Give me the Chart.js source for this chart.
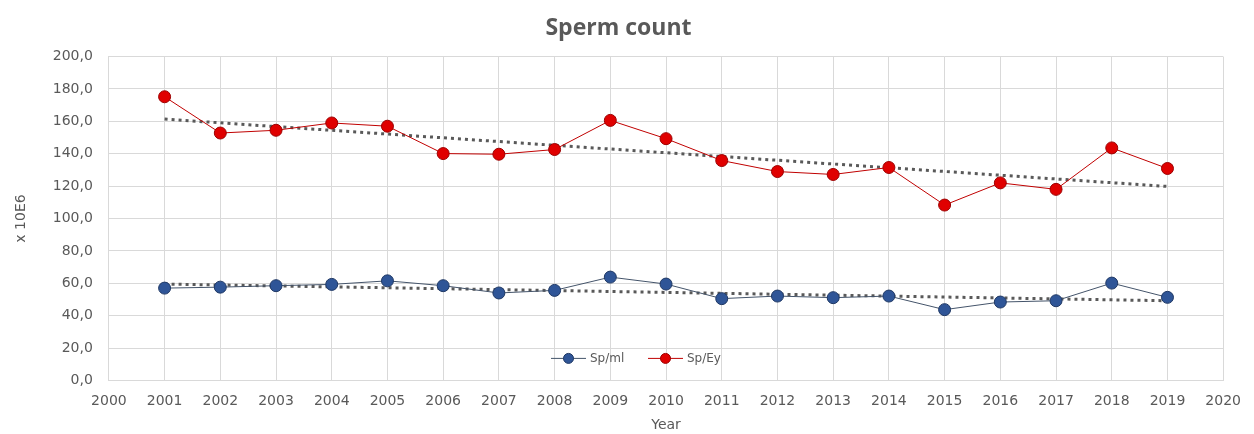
<!DOCTYPE html>
<html>
<head>
<meta charset="utf-8">
<script src="https://cdn.jsdelivr.net/npm/chart.js@4"></script>
<style>
  html, body { margin: 0; padding: 0; background: #fff; }
  #wrap { width: 1254px; height: 434px; }
</style>
</head>
<body>
<div id="wrap"><canvas id="spermChart"></canvas></div>
<script>
const years = [2001, 2002, 2003, 2004, 2005, 2006, 2007, 2008, 2009, 2010,
               2011, 2012, 2013, 2014, 2015, 2016, 2017, 2018, 2019];
const spMl = [57.0, 57.6, 58.5, 59.3, 61.5, 58.5, 54.0, 55.6, 63.8, 59.5,
              50.5, 52.1, 51.1, 52.1, 43.7, 48.4, 49.2, 60.1, 51.3];
const spEy = [175.2, 152.8, 154.5, 159.0, 157.0, 140.1, 139.7, 142.6, 160.6, 149.3,
              135.8, 129.0, 127.2, 131.5, 108.3, 122.0, 118.0, 143.6, 130.9];

// trend line end points
const trendYears = [2001, 2019];
const trendMl = [59.5, 49.2];
const trendEy = [161.4, 119.8];

const gray = "#595959";
const gridColor = "#d9d9d9";

function toPoints(xs, ys) {
    return xs.map((x, i) => ({ x: x, y: ys[i] }));
}

// legend drawn inside the plot, near the bottom, like the original
const innerLegend = {
    id: "innerLegend",
    afterDraw(chart) {
        const ctx = chart.ctx;
        const area = chart.chartArea;
        const y = area.bottom - 22;
        const items = [
            { text: "Sp/ml", ds: chart.data.datasets[0], x: 551 },
            { text: "Sp/Ey", ds: chart.data.datasets[1], x: 648 }
        ];
        ctx.save();
        ctx.font = "12px 'DejaVu Sans'";
        ctx.textBaseline = "middle";
        items.forEach(it => {
            ctx.strokeStyle = it.ds.borderColor;
            ctx.lineWidth = 1;
            ctx.beginPath();
            ctx.moveTo(it.x, y);
            ctx.lineTo(it.x + 35, y);
            ctx.stroke();
            ctx.fillStyle = it.ds.pointBackgroundColor;
            ctx.strokeStyle = it.ds.pointBorderColor;
            ctx.beginPath();
            ctx.arc(it.x + 17.5, y, 5, 0, Math.PI * 2);
            ctx.fill();
            ctx.stroke();
            ctx.fillStyle = gray;
            ctx.fillText(it.text, it.x + 39, y);
        });
        ctx.restore();
    }
};

const ctx = document.getElementById("spermChart").getContext("2d");
new Chart(ctx, {
    type: "line",
    data: {
        datasets: [
            {
                label: "Sp/ml",
                data: toPoints(years, spMl),
                borderColor: "#44546a",
                borderWidth: 1,
                pointBackgroundColor: "#2f5597",
                pointBorderColor: "#1f3864",
                pointBorderWidth: 1,
                pointRadius: 6
            },
            {
                label: "Sp/Ey",
                data: toPoints(years, spEy),
                borderColor: "#c00000",
                borderWidth: 1,
                pointBackgroundColor: "#e00000",
                pointBorderColor: "#9c0000",
                pointBorderWidth: 1,
                pointRadius: 6
            },
            {
                label: "trend Sp/ml",
                data: toPoints(trendYears, trendMl),
                borderColor: gray,
                borderWidth: 3,
                borderDash: [3, 4],
                pointRadius: 0
            },
            {
                label: "trend Sp/Ey",
                data: toPoints(trendYears, trendEy),
                borderColor: gray,
                borderWidth: 3,
                borderDash: [3, 4],
                pointRadius: 0
            }
        ]
    },
    options: {
        responsive: true,
        maintainAspectRatio: false,
        animation: false,
        layout: { padding: { left: 13, right: 30, top: 6, bottom: 0 } },
        plugins: {
            legend: { display: false },
            tooltip: { enabled: false },
            title: {
                display: true,
                text: "Sperm count",
                color: gray,
                font: { family: "'Open Sans'", size: 23, weight: "bold" },
                padding: { top: 9, bottom: 14 }
            }
        },
        scales: {
            x: {
                type: "linear",
                min: 2000,
                max: 2020,
                ticks: {
                    stepSize: 1,
                    color: gray,
                    font: { family: "'DejaVu Sans'", size: 14 },
                    padding: 13,
                    maxRotation: 0,
                    autoSkip: false,
                    callback: v => String(v)
                },
                grid: { color: gridColor, drawTicks: false },
                border: { color: gridColor },
                title: {
                    display: true,
                    text: "Year",
                    color: gray,
                    font: { family: "'DejaVu Sans'", size: 14 },
                    padding: { top: -6, bottom: 0 }
                }
            },
            y: {
                min: 0,
                max: 200,
                ticks: {
                    stepSize: 20,
                    color: gray,
                    font: { family: "'DejaVu Sans'", size: 14 },
                    padding: 16,
                    callback: v => v.toFixed(1).replace(".", ",")
                },
                grid: { color: gridColor, drawTicks: false },
                border: { color: gridColor },
                title: {
                    display: true,
                    text: "x 10E6",
                    color: gray,
                    font: { family: "'DejaVu Sans'", size: 14 },
                    padding: { top: 0, bottom: 7 }
                }
            }
        }
    },
    plugins: [innerLegend]
});
</script>
</body>
</html>
